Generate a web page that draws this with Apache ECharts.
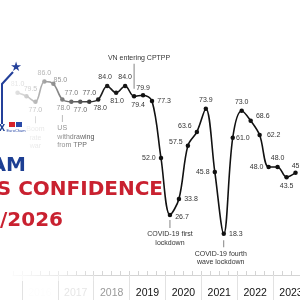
<!DOCTYPE html>
<html>
<head>
<meta charset="utf-8">
<script src="https://cdn.jsdelivr.net/npm/echarts@6/dist/echarts.min.js"></script>
<style>
  html, body { margin: 0; padding: 0; background: #fff; }
  #main { width: 300px; height: 300px; }
</style>
</head>
<body>
<div id="main"></div>
<script>
// quarterly business confidence index
var quarters = ['2015Q4',
  '2016Q1', '2016Q2', '2016Q3', '2016Q4',
  '2017Q1', '2017Q2', '2017Q3', '2017Q4',
  '2018Q1', '2018Q2', '2018Q3', '2018Q4',
  '2019Q1', '2019Q2', '2019Q3', '2019Q4',
  '2020Q1', '2020Q2', '2020Q3', '2020Q4',
  '2021Q1', '2021Q2', '2021Q3', '2021Q4',
  '2022Q1', '2022Q2', '2022Q3', '2022Q4',
  '2023Q1', '2023Q2', '2023Q3'];
var bci = [81.0,
  79.5, 77.0, 86.0, 85.0,
  78.0, 77.0, 77.0, 77.0,
  78.0, 84.0, 81.0, 84.0,
  79.4, 79.9, 77.3, 52.0,
  26.7, 33.8, 57.5, 63.6,
  73.9, 45.8, 18.3, 61.0,
  73.0, 68.6, 62.2, 48.0,
  48.0, 43.5, 45.5];
var years = ['2016', '2017', '2018', '2019', '2020', '2021', '2022', '2023'];
var notes = [
  { q: '2016Q2', text: 'Boom\nrate\nwar' },
  { q: '2017Q1', text: 'US\nwithdrawing\nfrom TPP' },
  { q: '2019Q1', text: 'VN entering CPTPP' },
  { q: '2020Q1', text: 'COVID-19 first\nlockdown' },
  { q: '2021Q3', text: 'COVID-19 fourth\nwave lockdown' }
];

// where each value label sits: [position, dx, dy]
var labelSpots = [
  ['top', 0, 0],
  ['top', 4, 2], ['bottom', 0, 0], ['top', 0, 0], ['top', 7, 5],
  ['bottom', 1, 0], ['top', 0, 0], ['bottom', 0, 0], ['top', 0, 0],
  ['bottom', 2, 0], ['top', -2, 0], ['bottom', 1, 0], ['top', 0, 0],
  ['bottom', 4, 0], ['top', 0, 2], ['right', 0, 0], ['left', 0, 0],
  ['right', 0, 2], ['right', 0, 0], ['left', 0, -4], ['left', 0, -6],
  ['top', 0, 0], ['left', 0, 0], ['right', 0, 0], ['right', -2, 0],
  ['top', 0, 0], ['right', 0, -5], ['right', 2, 0], ['left', 0, 0],
  ['top', 0, 0], ['bottom', 0, 0], ['top', 3, 2]
];
// stick for each note: [length, offsetY, label position, align, dx, colour]
var noteSpots = {
  '2016Q2': [7, 18, 'bottom', 'center', 0, '#bbb'],
  '2017Q1': [7, 19, 'bottom', 'left', -5, '#333'],
  '2019Q1': [25, -20, 'top', 'center', 5, '#333'],
  '2020Q1': [8, 9, 'bottom', 'center', 0, '#333'],
  '2021Q3': [7, 10, 'bottom', 'center', -3, '#333']
};

var numFont = 'Liberation Sans, Arial, sans-serif';
var yearFont = 'Liberation Sans Narrow, Liberation Sans, sans-serif';
var titleFont = 'DejaVu Sans, sans-serif';

var yearStart = years.map(function (y) { return quarters.indexOf(y + 'Q1') - 0.5; });
var yearMid = yearStart.map(function (p) { return p + 2; });
var yearColors = ['#fdfdfd', '#e6e6e6', '#999999'];
function yearIndex(v) { return Math.round((Number(v) - yearMid[0]) / 4); }

var seriesData = bci.map(function (v, i) {
  var s = labelSpots[i];
  return { value: v, label: { position: s[0], offset: [s[1], s[2]] } };
});

var markData = notes.map(function (n) {
  var s = noteSpots[n.q];
  return {
    name: n.text,
    coord: [n.q, bci[quarters.indexOf(n.q)]],
    symbol: 'rect',
    symbolSize: [0.8, s[0]],
    symbolOffset: [0, s[1]],
    itemStyle: { color: '#666' },
    label: {
      show: true, position: s[2], align: s[3], offset: [s[4], 0],
      distance: 2, formatter: '{b}', fontSize: 7, lineHeight: 8.5,
      color: s[5], fontFamily: numFont
    }
  };
});

var chart = echarts.init(document.getElementById('main'));
chart.setOption({
  animation: false,
  backgroundColor: '#fff',
  grid: { left: 13, right: 0, top: 50, bottom: 25, containLabel: false, outerBoundsMode: 'none' },
  xAxis: [{
    type: 'category',
    data: quarters,
    boundaryGap: true,
    axisLine: { lineStyle: { color: '#d4d4d4', width: 1 } },
    axisTick: { show: true, inside: true, length: 4, interval: 0, lineStyle: { color: '#d4d4d4' } },
    axisLabel: { show: false },
    splitLine: { show: false }
  }, {
    type: 'value',
    min: -0.5,
    max: quarters.length - 0.5,
    position: 'bottom',
    axisLine: { show: false },
    axisTick: { show: true, customValues: yearStart, length: 25, lineStyle: { color: '#e2e2e2' } },
    axisLabel: {
      show: true,
      customValues: yearMid,
      margin: 13,
      fontSize: 10.5,
      fontFamily: yearFont,
      hideOverlap: false,
      showMinLabel: true,
      showMaxLabel: true,
      formatter: function (v) { return years[yearIndex(v)] || ''; },
      color: function (v) {
        var k = yearIndex(v);
        return k < yearColors.length ? yearColors[k] : '#111';
      }
    },
    splitLine: { show: false }
  }],
  yAxis: { type: 'value', min: 0, max: 100, show: false, splitLine: { show: false } },
  series: [{
    type: 'line',
    data: seriesData,
    smooth: 0.35,
    symbol: 'circle',
    symbolSize: 4.5,
    itemStyle: { color: '#111' },
    lineStyle: { color: '#111', width: 1.6 },
    label: {
      show: true, fontSize: 7, color: '#333', fontFamily: numFont, distance: 3,
      formatter: function (p) { return p.value.toFixed(1); }
    },
    markPoint: { silent: true, data: markData }
  }],
  graphic: [
    {
      type: 'rect', silent: true, z: 50,
      shape: { x: 0, y: 0, width: 135, height: 281 },
      style: {
        fill: new echarts.graphic.LinearGradient(0, 0, 1, 0, [
          { offset: 0, color: 'rgba(255,255,255,1)' },
          { offset: 0.19, color: 'rgba(255,255,255,0.8)' },
          { offset: 0.33, color: 'rgba(255,255,255,0.62)' },
          { offset: 0.46, color: 'rgba(255,255,255,0.46)' },
          { offset: 0.6, color: 'rgba(255,255,255,0.28)' },
          { offset: 0.72, color: 'rgba(255,255,255,0.06)' },
          { offset: 1, color: 'rgba(255,255,255,0)' }
        ])
      }
    },
    {
      type: 'text', z: 100, silent: true, x: 26, y: 166,
      style: { text: 'VIETNAM', fill: '#1d3f93', font: 'bold 20px ' + titleFont, align: 'right', verticalAlign: 'middle' }
    },
    {
      type: 'text', z: 100, silent: true, x: 163, y: 190,
      style: { text: 'BUSINESS CONFIDENCE', fill: '#c92130', font: 'bold 20px ' + titleFont, align: 'right', verticalAlign: 'middle' }
    },
    {
      type: 'text', z: 100, silent: true, x: 63, y: 221,
      style: { text: 'Q1/2026', fill: '#c92130', font: 'bold 20px ' + titleFont, align: 'right', verticalAlign: 'middle' }
    },
    {
      type: 'polyline', z: 100, silent: true,
      shape: { points: [[2, 124], [2, 84], [13, 72]] },
      style: { stroke: '#24409a', lineWidth: 2, fill: null }
    },
    {
      type: 'text', z: 100, silent: true, x: 16, y: 68,
      style: { text: '★', fill: '#24409a', font: '13px DejaVu Sans', align: 'center', verticalAlign: 'middle' }
    },
    {
      type: 'text', z: 100, silent: true, x: 2, y: 129,
      style: { text: 'X', fill: '#1d3f93', font: 'bold 8px ' + titleFont, align: 'center', verticalAlign: 'middle' }
    },
    {
      type: 'rect', z: 100, silent: true,
      shape: { x: 9, y: 122, width: 6, height: 5 },
      style: { fill: '#d8232a' }
    },
    {
      type: 'rect', z: 100, silent: true,
      shape: { x: 16, y: 122, width: 6, height: 5 },
      style: { fill: '#2a4aa8' }
    },
    {
      type: 'text', z: 100, silent: true, x: 16, y: 131,
      style: { text: 'EuroCham', fill: '#2a4aa8', font: '4px ' + numFont, align: 'center', verticalAlign: 'middle' }
    }
  ]
});
window.onresize = chart.resize;
</script>
</body>
</html>
